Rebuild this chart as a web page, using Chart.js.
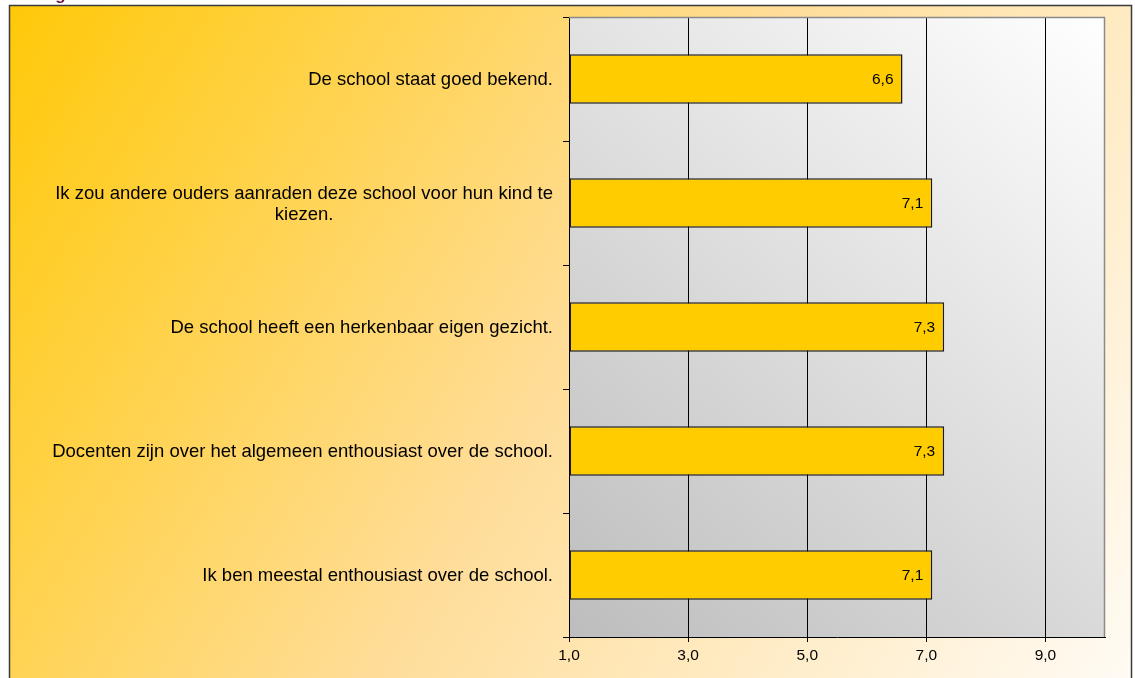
<!DOCTYPE html>
<html><head><meta charset="utf-8">
<script src="https://cdn.jsdelivr.net/npm/chart.js@4.4.1/dist/chart.umd.min.js"></script>
<style>html,body{margin:0;padding:0;background:#fff;overflow:hidden}canvas{display:block}</style>
</head><body>
<canvas id="c" width="1135" height="678"></canvas>
<script>
const categories = [
  ["De school staat goed bekend."],
  ["Ik zou andere ouders aanraden deze school voor hun kind te", "kiezen."],
  ["De school heeft een herkenbaar eigen gezicht."],
  ["Docenten zijn over het algemeen enthousiast over de school."],
  ["Ik ben meestal enthousiast over de school."]
];
const scores = [6.6, 7.1, 7.3, 7.3, 7.1];
const xTickValues = [1, 3, 5, 7, 9];
const axisMin = 1;
const axisMax = 10;
const titleText = "Imago";

const FONT = "'Liberation Sans', Arial, sans-serif";
const fmt = v => Number(v).toFixed(1).replace('.', ',');

const decor = {
  id: 'decor',
  beforeDraw(chart) {
    const ctx = chart.ctx, W = chart.width, H = chart.height;
    ctx.save();
    ctx.fillStyle = '#fff'; ctx.fillRect(0, 0, W, H);
    const x0 = 9, y0 = 5, x1 = 1131, y1 = H + 12;
    let g = ctx.createLinearGradient(x0, y0, x1, y1);
    g.addColorStop(0, '#FFC908');
    g.addColorStop(0.5, '#FFDD98');
    g.addColorStop(1, '#FFFBF5');
    ctx.fillStyle = g; ctx.fillRect(x0, y0, x1 - x0, y1 - y0);
    ctx.strokeStyle = '#3a3a3a'; ctx.lineWidth = 1.5;
    ctx.strokeRect(x0 + 0.5, y0 + 0.5, x1 - x0, y1 - y0);
    ctx.fillStyle = '#6E1440'; ctx.font = 'bold 17px ' + FONT;
    ctx.textBaseline = 'alphabetic'; ctx.textAlign = 'left';
    ctx.fillText(titleText, 26, 0);
    const a = chart.chartArea;
    g = ctx.createLinearGradient(a.left, a.bottom, a.right, a.top);
    g.addColorStop(0, '#BDBDBD'); g.addColorStop(1, '#FFFFFF');
    ctx.fillStyle = g; ctx.fillRect(a.left, a.top, a.right - a.left, a.bottom - a.top);
    ctx.restore();
  },
  afterDatasetsDraw(chart) {
    const ctx = chart.ctx;
    ctx.save();
    ctx.font = '15.5px ' + FONT; ctx.fillStyle = '#000';
    ctx.textAlign = 'right'; ctx.textBaseline = 'middle';
    chart.getDatasetMeta(0).data.forEach((bar, i) => {
      ctx.fillText(fmt(scores[i]), bar.x - 9, bar.y + 1);
    });
    ctx.restore();
  },
  afterDraw(chart) {
    const ctx = chart.ctx, a = chart.chartArea, ys = chart.scales.y;
    ctx.save();
    ctx.strokeStyle = '#8a8a8a'; ctx.lineWidth = 1.5;
    ctx.beginPath();
    ctx.moveTo(a.left, a.top + 0.5); ctx.lineTo(a.right - 0.5, a.top + 0.5); ctx.lineTo(a.right - 0.5, a.bottom);
    ctx.stroke();
    ctx.font = '18.5px ' + FONT; ctx.fillStyle = '#000';
    ctx.textAlign = 'center'; ctx.textBaseline = 'middle';
    const right = a.left - 16, lh = 21;
    categories.forEach((lines, i) => {
      const yc = ys.getPixelForTick(i);
      const w = Math.max(...lines.map(l => ctx.measureText(l).width));
      const cx = right - w / 2;
      lines.forEach((l, j) => ctx.fillText(l, cx, yc + 1 + (j - (lines.length - 1) / 2) * lh));
    });
    ctx.restore();
  }
};

new Chart(document.getElementById('c'), {
  type: 'bar',
  data: {
    labels: categories.map(c => c.join(' ')),
    datasets: [{
      data: scores,
      base: axisMin,
      backgroundColor: '#FFCC00',
      borderColor: '#1a1a1a',
      borderWidth: 1.5,
      borderSkipped: false,
      barPercentage: 0.4,
      categoryPercentage: 1
    }]
  },
  options: {
    indexAxis: 'y',
    responsive: false,
    animation: false,
    devicePixelRatio: 1,
    layout: { padding: { top: 17, right: 30, left: 0, bottom: 0 } },
    plugins: { legend: { display: false }, tooltip: { enabled: false }, title: { display: false } },
    scales: {
      x: {
        type: 'linear', min: axisMin, max: axisMax,
        afterBuildTicks(s) { s.ticks = xTickValues.map(v => ({ value: v })); },
        grid: { color: '#000', lineWidth: 1, drawTicks: true, tickLength: 5, tickColor: '#000' },
        border: { display: true, color: '#000', width: 1 },
        ticks: { font: { family: FONT, size: 15.5 }, color: '#000', padding: 4, maxRotation: 0, autoSkip: false,
                 callback: v => fmt(v) },
        afterFit(s) { s.height = 41; }
      },
      y: {
        type: 'category',
        grid: { display: true, drawOnChartArea: false, drawTicks: true, tickLength: 6, color: '#000', offset: true },
        border: { display: true, color: '#000', width: 1 },
        ticks: { display: false },
        afterFit(s) { s.width = 569; }
      }
    }
  },
  plugins: [decor]
});
</script>
</body></html>
